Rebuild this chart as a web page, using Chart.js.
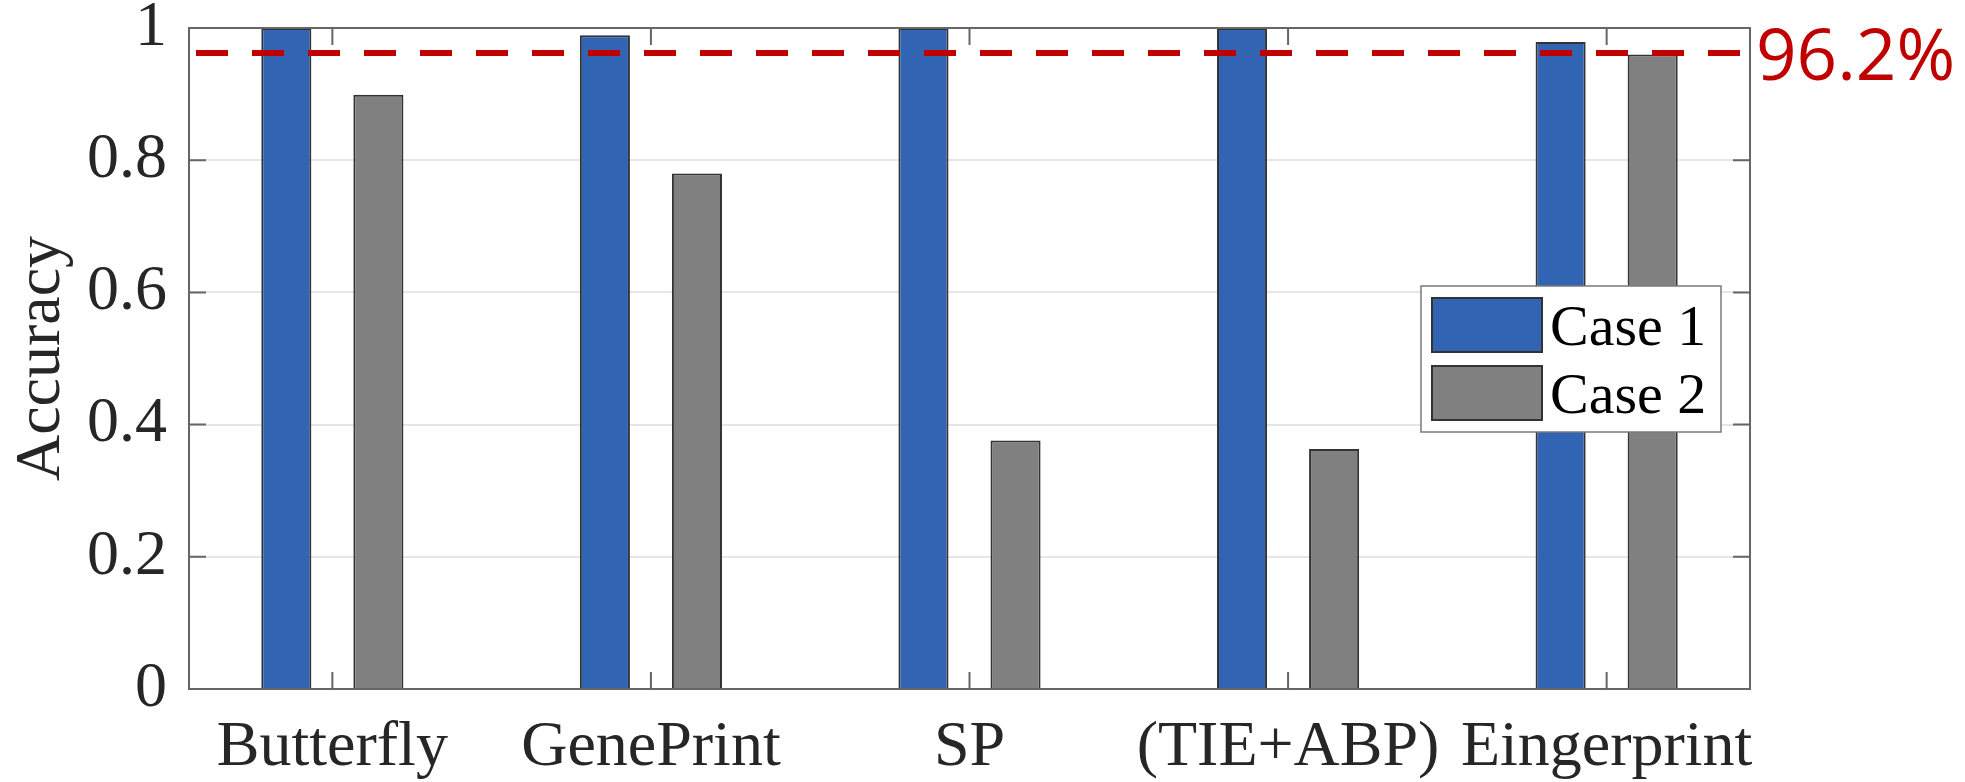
<!DOCTYPE html>
<html>
<head>
<meta charset="utf-8">
<script src="https://cdn.jsdelivr.net/npm/chart.js@4.4.1/dist/chart.umd.min.js"></script>
<style>
  html, body { margin: 0; padding: 0; background: #fff; }
  #wrap { width: 1965px; height: 782px; }
</style>
</head>
<body>
<div id="wrap"><canvas id="chart" width="1965" height="782"></canvas></div>
<script>
// data
const CATEGORIES = ["Butterfly", "GenePrint", "SP", "(TIE+ABP)", "Eingerprint"];
const SERIES_NAMES = ["Case 1", "Case 2"];
const CASE1 = [1.0, 0.989, 1.0, 1.0, 0.979];
const CASE2 = [0.899, 0.780, 0.376, 0.363, 0.960];
const Y_TICKS = [0, 0.2, 0.4, 0.6, 0.8, 1];
const THRESHOLD = 0.962;
const THRESHOLD_LABEL = "96.2%";

const TEXT = "#262626";
const SERIF = "'Liberation Serif', 'Times New Roman', serif";
const BAR_COLORS = ["#3264b4", "#808080"];

Chart.defaults.font.family = SERIF;

// MATLAB-ish box, inward ticks, threshold line and legend
const figureExtras = {
  id: "figureExtras",
  afterDatasetsDraw(chart) {
    const { ctx, chartArea: a, scales: { x, y } } = chart;
    ctx.save();

    // threshold
    const ty = y.getPixelForValue(THRESHOLD);
    ctx.strokeStyle = "#c00000";
    ctx.lineWidth = 6;
    ctx.setLineDash([32, 24]);
    ctx.beginPath();
    ctx.moveTo(a.left + 7, ty);
    ctx.lineTo(a.right - 10, ty);
    ctx.stroke();
    ctx.setLineDash([]);

    // box + ticks
    ctx.strokeStyle = "#666";
    ctx.lineWidth = 2;
    ctx.strokeRect(a.left, a.top, a.right - a.left, a.bottom - a.top);
    ctx.beginPath();
    Y_TICKS.forEach(v => {
      const py = y.getPixelForValue(v);
      ctx.moveTo(a.left, py); ctx.lineTo(a.left + 17, py);
      ctx.moveTo(a.right, py); ctx.lineTo(a.right - 17, py);
    });
    CATEGORIES.forEach((c, i) => {
      const px = x.getPixelForValue(i + 1);
      ctx.moveTo(px, a.bottom); ctx.lineTo(px, a.bottom - 17);
      ctx.moveTo(px, a.top); ctx.lineTo(px, a.top + 17);
    });
    ctx.stroke();

    // threshold label
    ctx.fillStyle = "#c00000";
    ctx.font = "71px 'Open Sans'";
    ctx.textAlign = "left";
    ctx.textBaseline = "alphabetic";
    ctx.fillText(THRESHOLD_LABEL, a.right + 6, ty + 27);

    // legend
    const lx = a.right - 329, ly = a.top + 258;
    ctx.fillStyle = "#fff";
    ctx.fillRect(lx, ly, 300, 146);
    ctx.strokeStyle = "#7a7a7a";
    ctx.lineWidth = 1.5;
    ctx.strokeRect(lx, ly, 300, 146);
    ctx.font = "58px " + SERIF;
    chart.data.datasets.forEach((ds, i) => {
      const sy = ly + 12 + i * 68;
      ctx.fillStyle = ds.backgroundColor;
      ctx.fillRect(lx + 11, sy, 110, 54);
      ctx.strokeStyle = "#333";
      ctx.lineWidth = 2;
      ctx.strokeRect(lx + 11, sy, 110, 54);
      ctx.fillStyle = "#000";
      ctx.fillText(ds.label, lx + 129, sy + 27 + 20);
    });

    ctx.restore();
  }
};

new Chart(document.getElementById("chart"), {
  type: "bar",
  data: {
    datasets: [
      {
        label: SERIES_NAMES[0],
        data: CASE1.map((v, i) => ({ x: i + 1, y: v })),
        backgroundColor: BAR_COLORS[0],
        borderColor: "#333",
        borderWidth: 2,
      },
      {
        label: SERIES_NAMES[1],
        data: CASE2.map((v, i) => ({ x: i + 1, y: v })),
        backgroundColor: BAR_COLORS[1],
        borderColor: "#333",
        borderWidth: 2,
      }
    ]
  },
  options: {
    responsive: false,
    animation: false,
    categoryPercentage: 0.578,
    barPercentage: 0.544,
    layout: { padding: { top: 28, right: 215, left: 0, bottom: 0 } },
    plugins: {
      legend: { display: false },
      tooltip: { enabled: false }
    },
    scales: {
      x: {
        type: "linear",
        offset: false,
        min: 0.55,
        max: 5.45,
        grid: { display: false, drawTicks: false },
        border: { display: false },
        afterBuildTicks: s => { s.ticks = CATEGORIES.map((c, i) => ({ value: i + 1 })); },
        afterFit: s => { s.height = 93; s.paddingLeft = 0; s.paddingRight = 0; },
        ticks: {
          autoSkip: false,
          maxRotation: 0,
          padding: 21,
          color: TEXT,
          font: { size: 64 },
          callback: (v, i) => CATEGORIES[i]
        }
      },
      y: {
        min: 0,
        max: 1,
        grid: { color: "#e6e6e6", lineWidth: 2, drawTicks: false },
        border: { display: false },
        afterFit: s => { s.width = 189; s.paddingTop = 0; s.paddingBottom = 0; },
        ticks: {
          stepSize: 0.2,
          padding: 22,
          color: TEXT,
          font: { size: 64 },
          callback: v => String(Number(v.toFixed(1)))
        },
        title: {
          display: true,
          text: "Accuracy",
          color: TEXT,
          font: { size: 64 },
          padding: { top: 4, bottom: 0 }
        }
      }
    }
  },
  plugins: [figureExtras]
});
</script>
</body>
</html>
